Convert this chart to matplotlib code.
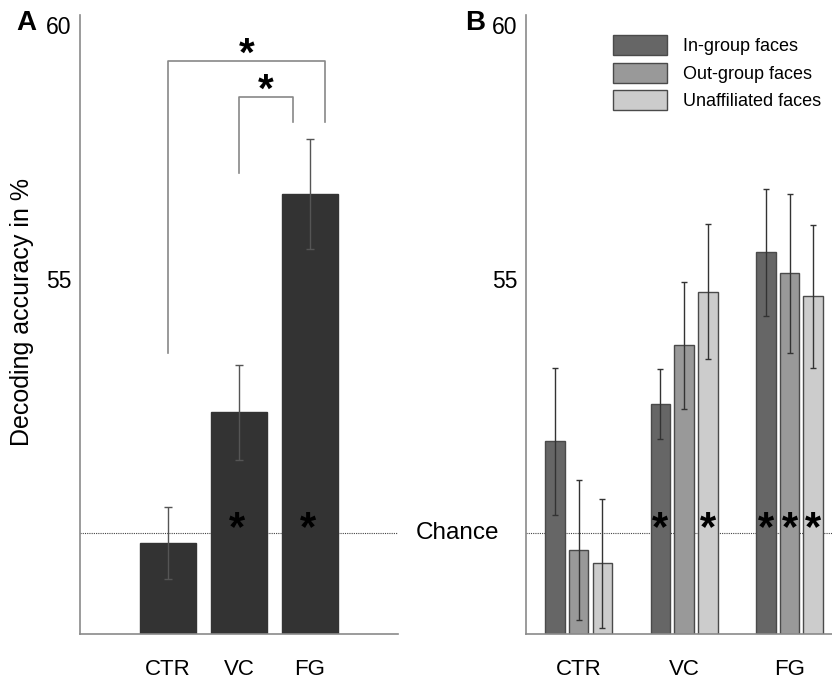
import matplotlib
matplotlib.use('Agg')
import matplotlib.pyplot as plt
from matplotlib.patches import Patch
from matplotlib.font_manager import FontProperties
import numpy as np

# ---------------- data ----------------
regions = ['CTR', 'VC', 'FG']
chance = 50
ytick_vals = [55, 60]

a_means = [49.80, 52.37, 56.67]
a_errs = [0.71, 0.94, 1.08]
a_sig = [False, True, True]

face_types = ['In-group faces', 'Out-group faces', 'Unaffiliated faces']
in_means = [51.80, 52.54, 55.52]
out_means = [49.65, 53.69, 55.11]
unaff_means = [49.39, 54.75, 54.66]
in_errs = [1.45, 0.69, 1.26]
out_errs = [1.38, 1.25, 1.57]
unaff_errs = [1.28, 1.33, 1.41]
in_sig = [False, True, True]
out_sig = [False, False, True]
unaff_sig = [False, True, True]

# brackets in panel A: (x_left, x_right, y_left_bottom, y_top, y_right_bottom, x_star, y_star)
brackets = [
    (0.0, 2.21, 53.54, 59.29, 58.09, 1.11, 59.56),
    (1.0, 1.76, 57.08, 58.58, 58.09, 1.38, 58.85),
]

# ---------------- style ----------------
W, H = 832, 680
fig = plt.figure(figsize=(W / 100, H / 100), dpi=100)
plt.rcParams['font.family'] = ['Liberation Sans', 'DejaVu Sans']
spine_col = '#8a8a8a'
ylim = (48, 60.2)

def fx(px):
    return px / W

def fy(py):
    return 1 - py / H

axA = fig.add_axes([fx(80), fy(634), fx(398) - fx(80), fy(15) - fy(634)])
axB = fig.add_axes([fx(526), fy(634), 1 - fx(526), fy(15) - fy(634)])

for ax in (axA, axB):
    ax.set_ylim(*ylim)
    for s in ('top', 'right'):
        ax.spines[s].set_visible(False)
    for s in ('left', 'bottom'):
        ax.spines[s].set_color(spine_col)
        ax.spines[s].set_linewidth(1.2)
    ax.tick_params(length=0)
    ax.set_yticks(ytick_vals)
    ax.set_yticklabels([str(v) for v in ytick_vals], fontsize=16.5)
    ax.tick_params(axis='y', pad=6)
    ax.tick_params(axis='x', pad=18)
    ax.axhline(chance, color='#444444', lw=0.8, ls=(0, (1, 1)), zorder=1)

def star(ax, x, y, fs=30):
    ax.annotate('*', xy=(x, y), xytext=(0, -0.46 * fs), textcoords='offset points',
                ha='center', va='baseline', fontsize=fs, fontweight='bold',
                color='black', zorder=5)

# ---------------- panel A ----------------
xa = np.arange(len(regions))
axA.bar(xa, a_means, width=0.8, color='#333333', edgecolor='#333333', zorder=2)
axA.errorbar(xa, a_means, yerr=a_errs, fmt='none', ecolor='#555555', elinewidth=1,
             capsize=3, capthick=1, zorder=3)
axA.set_xlim(-1.239, 3.239)
axA.set_ylim(*ylim)
axA.set_xticks(xa)
axA.set_xticklabels(regions, fontsize=16)
for i, s in enumerate(a_sig):
    if s:
        star(axA, xa[i] - 0.03, chance + 0.22)

for xl, xr, yl, yt, yr, xs, ys in brackets:
    axA.plot([xl, xl, xr, xr], [yl, yt, yt, yr], color='#888888', lw=1.2, zorder=2)
    star(axA, xs, ys, fs=29)

# ---------------- panel B ----------------
xb = np.arange(1, len(regions) + 1)
offs = [-0.225, 0.0, 0.225]
colors = ['#666666', '#999999', '#cccccc']
means_list = [in_means, out_means, unaff_means]
errs_list = [in_errs, out_errs, unaff_errs]
sig_list = [in_sig, out_sig, unaff_sig]
handles = []
for k in range(3):
    xs = xb + offs[k]
    axB.bar(xs, means_list[k], width=0.185, color=colors[k], edgecolor='#4a4a4a',
            linewidth=1, zorder=2)
    axB.errorbar(xs, means_list[k], yerr=errs_list[k], fmt='none', ecolor='#333333',
                 elinewidth=1, capsize=2.5, capthick=1, zorder=3)
    for i, s in enumerate(sig_list[k]):
        if s:
            star(axB, xs[i], chance + 0.22)
    handles.append(Patch(facecolor=colors[k], edgecolor='#4a4a4a', label=face_types[k]))
axB.set_xlim(0.5, 3.403)
axB.set_ylim(*ylim)
axB.set_xticks(xb)
axB.set_xticklabels(regions, fontsize=16)

fig.legend(handles=handles, loc='upper left', bbox_to_anchor=(fx(613), fy(35)),
           frameon=False, borderpad=0, borderaxespad=0, handlelength=2.99,
           handleheight=1.33, handletextpad=0.89, labelspacing=0.415,
           prop=FontProperties(family=['Liberation Sans', 'DejaVu Sans'], size=13))

# ---------------- texts ----------------
fig.text(fx(16), fy(23), 'A', fontsize=20, fontweight='bold', ha='left', va='center')
fig.text(fx(465), fy(23), 'B', fontsize=20, fontweight='bold', ha='left', va='center')
fig.text(fx(416), fy(533), 'Chance', fontsize=17.5, ha='left', va='center')
fig.text(fx(22), fy(312), 'Decoding accuracy in %', fontsize=18, rotation=90,
         ha='center', va='center')

fig.savefig('out.png', dpi=100)
